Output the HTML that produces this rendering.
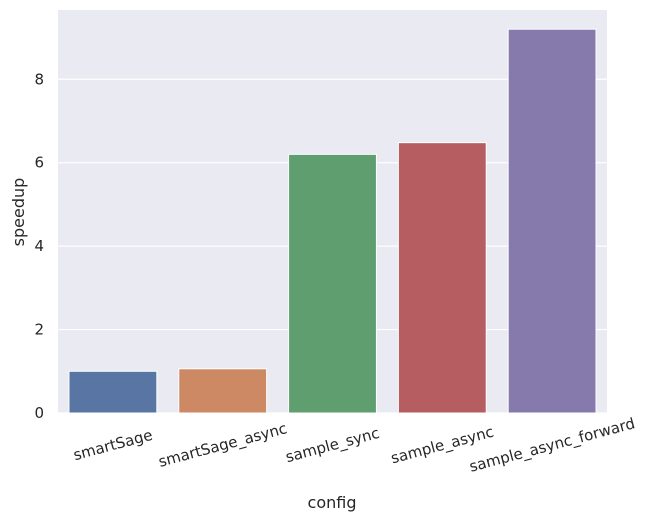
<!DOCTYPE html>
<html><head><meta charset="utf-8"><style>
body{margin:0;background:#fff}
svg{display:block;font-family:"DejaVu Sans","Liberation Sans",sans-serif}
</style></head><body>
<svg id="chart" width="650" height="521">
<rect x="58" y="10" width="549" height="403" fill="#eaeaf2"/>
<g id="grid"></g><g id="bars"></g><g id="yticks"></g><g id="xticks"></g>
<text x="24" y="212" transform="rotate(-90 24 212)" text-anchor="middle" font-size="16" fill="#262626">speedup</text>
<text x="332" y="508" text-anchor="middle" font-size="16" fill="#262626">config</text>
</svg>
<script>
const categories=["smartSage","smartSage_async","sample_sync","sample_async","sample_async_forward"];
const speedups=[1.0,1.06,6.2,6.48,9.2];
const yTicks=[0,2,4,6,8];
const colors=["#5975a4","#cc8963","#5f9e6e","#b55d60","#857aab"];
const NS="http://www.w3.org/2000/svg";
const x0=58,x1=607,y0=413,y1=10,yMax=9.66;
const yS=v=>y0-(v/yMax)*(y0-y1);
const band=(x1-x0)/categories.length;
const xS=i=>x0+band*i;
function mk(t,a,p){const e=document.createElementNS(NS,t);for(const k in a)e.setAttribute(k,a[k]);p.appendChild(e);return e;}
const grid=document.getElementById('grid'),bars=document.getElementById('bars'),yt=document.getElementById('yticks'),xt=document.getElementById('xticks');
yTicks.forEach(v=>{
 const l=mk('line',{x1:x0,x2:x1,y1:yS(v),y2:yS(v),stroke:'#fff','stroke-width':1.2},grid);
 
 
 const t=mk('text',{x:x0-14,y:yS(v)+5,'text-anchor':'end','font-size':15,fill:'#262626'},yt);
 t.textContent=v;
 
 
});
categories.forEach((c,i)=>{
 const w=band*0.8,bx=xS(i)+band*0.1;
 const r=mk('rect',{x:bx,y:yS(speedups[i]),width:w,height:y0-yS(speedups[i]),fill:colors[i],stroke:'#fff','stroke-width':1},bars);
 
 
 const cx=xS(i)+band/2,cy=y0+32;
 const t=mk('text',{x:cx,y:cy+5,'text-anchor':'middle','font-size':15,fill:'#262626',transform:`rotate(-15 ${cx} ${cy})`},xt);
 t.textContent=c;
 
 
});
</script>
</body></html>
